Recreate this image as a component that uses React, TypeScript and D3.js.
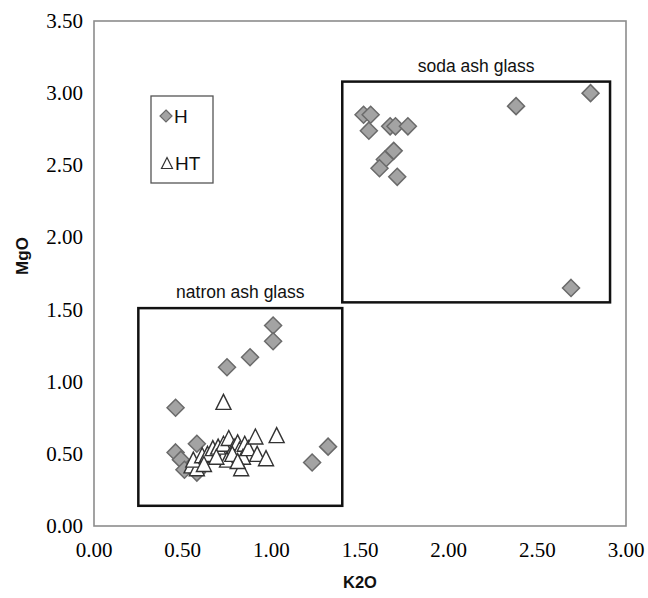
import React from "react";
import * as d3 from "d3";

const hK2O = [1.52, 1.56, 1.55, 1.67, 1.70, 1.77, 1.69, 1.64, 1.61, 1.71, 2.38, 2.80, 2.69,
  1.01, 1.01, 0.88, 0.75, 0.46, 0.46, 0.49, 0.51, 0.58, 0.58, 1.23, 1.32];
const hMgO = [2.85, 2.85, 2.74, 2.77, 2.77, 2.77, 2.60, 2.54, 2.48, 2.42, 2.91, 3.00, 1.65,
  1.39, 1.28, 1.17, 1.10, 0.82, 0.51, 0.46, 0.39, 0.57, 0.37, 0.44, 0.55];

const htK2O = [0.73, 1.03, 0.55, 0.58, 0.56, 0.61, 0.64, 0.67, 0.70, 0.73, 0.76, 0.79, 0.81,
  0.82, 0.85, 0.84, 0.83, 0.87, 0.91, 0.92, 0.97, 0.75, 0.78, 0.81, 0.62, 0.69];
const htMgO = [0.86, 0.63, 0.42, 0.40, 0.46, 0.49, 0.50, 0.54, 0.55, 0.57, 0.61, 0.55, 0.58,
  0.53, 0.57, 0.48, 0.40, 0.54, 0.62, 0.50, 0.47, 0.46, 0.50, 0.45, 0.43, 0.48];

const xTicks = [0, 0.5, 1, 1.5, 2, 2.5, 3];
const yTicks = [0, 0.5, 1, 1.5, 2, 2.5, 3, 3.5];

const regionNames = ["natron ash glass", "soda ash glass"];
const regionX0 = [0.25, 1.40];
const regionX1 = [1.40, 2.91];
const regionY0 = [0.14, 1.55];
const regionY1 = [1.51, 3.08];

const seriesNames = ["H", "HT"];

export default function App() {
  const W = 648, H = 598;
  const x = d3.scaleLinear().domain([0, 3]).range([94, 626]);
  const y = d3.scaleLinear().domain([0, 3.5]).range([526, 21]);
  const fmt = d3.format(".2f");
  const diamond = (cx: number, cy: number, r: number) =>
    `M${cx},${cy - r}L${cx + r},${cy}L${cx},${cy + r}L${cx - r},${cy}Z`;
  const tri = (cx: number, cy: number, s: number) =>
    `M${cx},${cy - s / 2}L${cx + s / 2},${cy + s / 2}L${cx - s / 2},${cy + s / 2}Z`;
  const tickFont = "'Liberation Serif', 'DejaVu Serif', serif";
  const sans = "'Liberation Sans', Arial, sans-serif";

  return (
    <svg width={W} height={H} style={{ position: "absolute", left: 0, top: 0, background: "#fff" }}>
      <rect x={x(0)} y={y(3.5)} width={x(3) - x(0)} height={y(0) - y(3.5)}
        fill="#fff" stroke="#8c8c8c" strokeWidth={1.6} />
      {yTicks.map((t) => (
        <text key={"y" + t} x={83} y={y(t)} textAnchor="end" dominantBaseline="central"
          fontFamily={tickFont} fontSize={21} fill="#000">{fmt(t)}</text>
      ))}
      {xTicks.map((t) => (
        <text key={"x" + t} x={x(t)} y={550} textAnchor="middle" dominantBaseline="central"
          fontFamily={tickFont} fontSize={21} fill="#000">{fmt(t)}</text>
      ))}
      <text x={360} y={582} textAnchor="middle" dominantBaseline="central"
        fontFamily={sans} fontWeight="bold" fontSize={16.5} fill="#111">K2O</text>
      <text transform={`translate(22,256) rotate(-90)`} textAnchor="middle" dominantBaseline="central"
        fontFamily={sans} fontWeight="bold" fontSize={17} fill="#111">MgO</text>

      {regionNames.map((n, i) => (
        <g key={n}>
          <rect x={x(regionX0[i])} y={y(regionY1[i])} width={x(regionX1[i]) - x(regionX0[i])}
            height={y(regionY0[i]) - y(regionY1[i])} fill="none" stroke="#111" strokeWidth={2.5} />
          <text x={(x(regionX0[i]) + x(regionX1[i])) / 2} y={y(regionY1[i]) - 16}
            textAnchor="middle" dominantBaseline="central" fontFamily={sans} fontSize={17.5} fill="#111">{n}</text>
        </g>
      ))}

      {hK2O.map((v, i) => (
        <path key={"h" + i} d={diamond(x(v), y(hMgO[i]), 8.5)} fill="#a3a3a3" stroke="#6a6a6a" strokeWidth={1.5} />
      ))}
      {htK2O.map((v, i) => (
        <path key={"t" + i} d={tri(x(v), y(htMgO[i]), 15)} fill="#fff" stroke="#333" strokeWidth={1.4} />
      ))}

      <rect x={151} y={96} width={62} height={87} fill="#fff" stroke="#555" strokeWidth={1.3} />
      <path d={diamond(166, 116, 6)} fill="#a3a3a3" stroke="#6a6a6a" strokeWidth={1.2} />
      <text x={174} y={116} dominantBaseline="central" fontFamily={sans} fontSize={19} fill="#111">{seriesNames[0]}</text>
      <path d={tri(167, 163, 11)} fill="#fff" stroke="#333" strokeWidth={1.2} />
      <text x={175} y={163} dominantBaseline="central" fontFamily={sans} fontSize={19} fill="#111">{seriesNames[1]}</text>
    </svg>
  );
}
